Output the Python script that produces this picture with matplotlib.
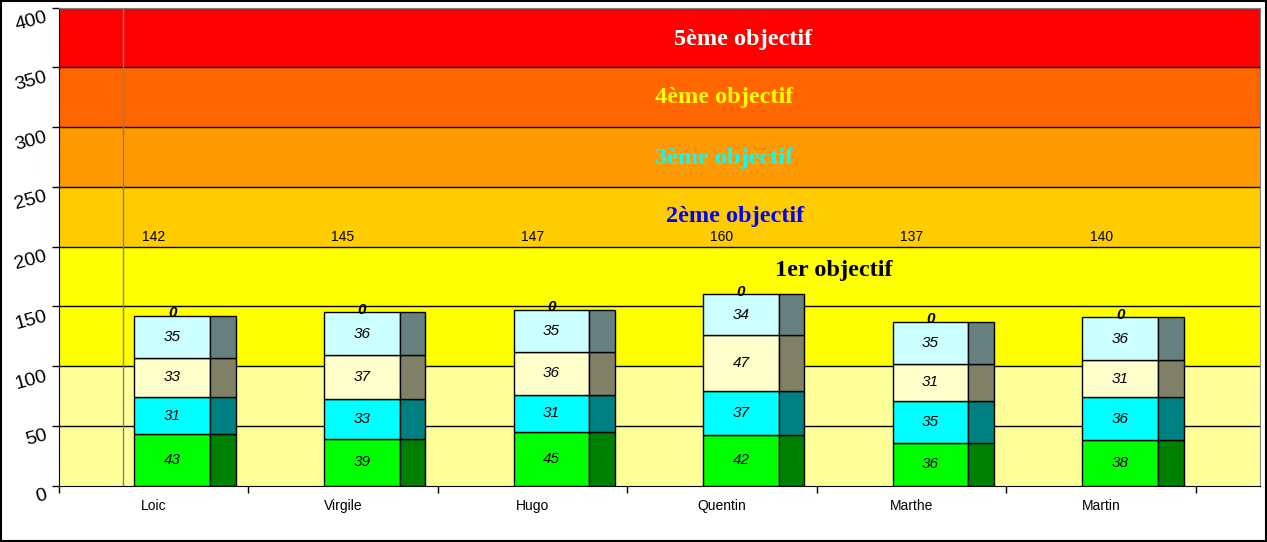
import matplotlib.pyplot as plt
from matplotlib.patches import Rectangle
import matplotlib.transforms as mtransforms
import numpy as np

# Data
names = ['Loic', 'Virgile', 'Hugo', 'Quentin', 'Marthe', 'Martin']
seg1 = [43, 39, 45, 42, 36, 38]
seg2 = [31, 33, 31, 37, 35, 36]
seg3 = [33, 37, 36, 47, 31, 31]
seg4 = [35, 36, 35, 34, 35, 36]
seg5 = [0, 0, 0, 0, 0, 0]
totals = [142, 145, 147, 160, 137, 140]

band_edges = [0, 100, 200, 250, 300, 350, 400]
band_colors = ['#FFFF99', '#FFFF00', '#FFCC00', '#FF9900', '#FF6600', '#FF0000']

obj_labels = ['1er objectif', '2ème objectif', '3ème objectif', '4ème objectif', '5ème objectif']
obj_colors = ['black', '#0000FF', '#00FFFF', '#FFFF00', 'white']
obj_x = [3.59, 3.07, 3.01, 3.01, 3.11]
obj_y = [180, 225, 274, 325, 373]

front_colors = ['#00FF00', '#00FFFF', '#FFFFCC', '#CCFFFF']
side_colors = ['#008000', '#008080', '#808066', '#668080']

fig = plt.figure(figsize=(12.67, 5.42), dpi=100)
ax = fig.add_axes([0.0462, 0.1042, 0.9483, 0.8819])

# background bands
for i in range(len(band_colors)):
    ax.axhspan(band_edges[i], band_edges[i + 1], color=band_colors[i], zorder=0, lw=0)

# horizontal grid lines
for y in range(50, 400, 50):
    ax.axhline(y, color='black', lw=1, zorder=1)
ax.axvline(-0.16, color='#808080', lw=1, zorder=1)

x = np.arange(len(names))
segs = [seg1, seg2, seg3, seg4]
bottom = np.zeros(len(names))
for vals, fc, sc in zip(segs, front_colors, side_colors):
    ax.bar(x - 0.10, vals, width=0.40, bottom=bottom, align='edge',
           color=fc, edgecolor='black', lw=1, zorder=3)
    ax.bar(x + 0.30, vals, width=0.135, bottom=bottom, align='edge',
           color=sc, edgecolor='black', lw=1, zorder=3)
    for xi, b, v in zip(x, bottom, vals):
        ax.text(xi + 0.10, b + v / 2, str(v), ha='center', va='center',
                fontsize=11, style='italic', family='Liberation Sans', zorder=5)
    bottom = bottom + np.array(vals)

# zero-valued top segment labels
for xi, b, v in zip(x, bottom, seg5):
    ax.text(xi + 0.10, b + v + 2, str(v), ha='center', va='center',
            fontsize=11, style='italic', weight='bold', family='Liberation Sans', zorder=5)

# totals
for xi, t in zip(x, totals):
    ax.text(xi, 208, str(t), ha='center', va='center', fontsize=10,
            family='Liberation Sans', zorder=5)

# objective labels
for lab, c, ox, oy in zip(obj_labels, obj_colors, obj_x, obj_y):
    ax.text(ox, oy, lab, ha='center', va='center', color=c, fontsize=17.5,
            weight='bold', family='Liberation Serif', zorder=4)

ax.set_xlim(-0.5, 5.838)
ax.set_ylim(0, 400)
ax.set_yticks(range(0, 401, 50))
ax.set_yticklabels([str(v) for v in range(0, 401, 50)], rotation=15,
                   fontsize=14, family='Liberation Sans')
ax.tick_params(axis='y', length=5, width=1, direction='out', pad=2)
shift = mtransforms.ScaledTranslation(0, -8 / 100, fig.dpi_scale_trans)
for lbl in ax.get_yticklabels():
    lbl.set_transform(lbl.get_transform() + shift)

ax.set_xticks(np.arange(-0.5, 6.0, 1.0))
ax.set_xticklabels([])
ax.set_xticks(x, minor=True)
ax.set_xticklabels(names, minor=True, fontsize=10, family='Liberation Sans')
ax.tick_params(axis='x', which='major', length=5, width=1, direction='out')
ax.tick_params(axis='x', which='minor', length=0, pad=10)

ax.spines['left'].set_color('black')
ax.spines['bottom'].set_color('black')
ax.spines['top'].set_color('#808080')
ax.spines['right'].set_color('#808080')

# outer frame of the chart
fig.patches.append(Rectangle((0.001, 0.002), 0.998, 0.996, transform=fig.transFigure,
                             fill=False, edgecolor='black', lw=1.5))

fig.savefig('out.png', dpi=100)
